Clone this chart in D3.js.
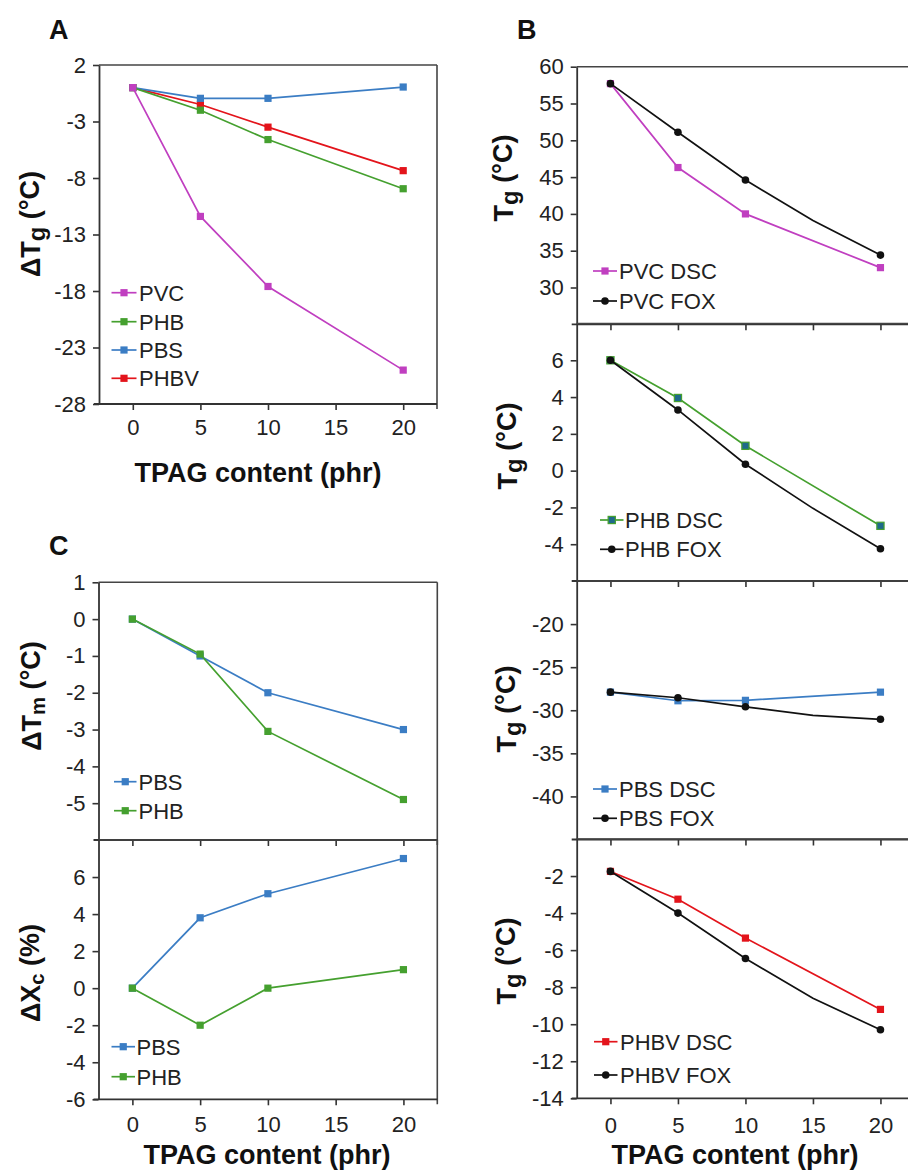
<!DOCTYPE html>
<html><head><meta charset="utf-8">
<script src="https://cdn.jsdelivr.net/npm/d3@7"></script>
<style>body{margin:0;background:#fff} svg{display:block}</style>
</head><body><svg id="c" width="908" height="1171"></svg>
<script>
// ---------- DATA ----------
const tpagX = [0, 5, 10, 20];
const foxX = [0, 5, 10, 15, 20];
const xTickVals = [0, 5, 10, 15, 20];

// Panel A: ΔTg
const dTgPVC  = [0, -11.4, -17.6, -25.0];
const dTgPHB  = [0, -2.0, -4.6, -8.95];
const dTgPBS  = [0, -0.95, -0.95, 0.05];
const dTgPHBV = [0, -1.5, -3.5, -7.35];
const ticksA = [2, -3, -8, -13, -18, -23, -28];

// Panel B: Tg DSC vs FOX
const tgPVCdsc  = [57.7, 46.3, 40.0, 32.7];
const tgPVCfox  = [57.7, 51.1, 44.6, 39.1, 34.4];
const tgPHBdsc  = [6.0, 3.95, 1.35, -3.0];
const tgPHBfox  = [6.0, 3.3, 0.35, -2.05, -4.25];
const tgPBSdsc  = [-27.9, -28.9, -28.85, -27.9];
const tgPBSfox  = [-27.9, -28.55, -29.6, -30.6, -31.05];
const tgPHBVdsc = [-1.75, -3.25, -5.35, -9.2];
const tgPHBVfox = [-1.75, -4.0, -6.45, -8.6, -10.3];
const ticksB1 = [30, 35, 40, 45, 50, 55, 60];
const ticksB2 = [-4, -2, 0, 2, 4, 6];
const ticksB3 = [-40, -35, -30, -25, -20];
const ticksB4 = [-14, -12, -10, -8, -6, -4, -2];

// Panel C: ΔTm and ΔXc
const dTmPBS = [0, -1.0, -2.0, -3.0];
const dTmPHB = [0, -0.95, -3.05, -4.9];
const dXcPBS = [0, 3.8, 5.1, 7.0];
const dXcPHB = [0, -2.0, 0, 1.0];
const ticksC1 = [-5, -4, -3, -2, -1, 0, 1];
const ticksC2 = [-6, -4, -2, 0, 2, 4, 6];

// ---------- STYLE ----------
const FONT = "'Liberation Sans', Arial, Helvetica, sans-serif";
const AX = "#333";
const C_PVC = "#c03fc0", C_PHB = "#45a02f", C_PBS = "#3b7dc4", C_PHBV = "#e3141b", C_FOX = "#111";
const xDomain = [-2.5, 22.5];
const fmt = d => String(d);

const svg = d3.select("#c");
svg.append("rect").attr("width", 908).attr("height", 1171).attr("fill", "#fff");

function drawPanel(p) {
  const x = d3.scaleLinear().domain(xDomain).range([p.left, p.right]);
  const y = d3.scaleLinear().domain(p.yDomain).range([p.bottom, p.top]);
  const g = svg.append("g");

  // frame top & right
  g.append("line").attr("x1", p.left).attr("x2", p.right).attr("y1", p.top).attr("y2", p.top)
    .attr("stroke", "#444").attr("stroke-width", 1.6);
  g.append("line").attr("x1", p.right).attr("x2", p.right).attr("y1", p.top).attr("y2", p.bottom + 5)
    .attr("stroke", "#444").attr("stroke-width", 1.6);

  // y axis
  const ya = g.append("g").attr("transform", `translate(${p.left},0)`)
    .call(d3.axisLeft(y).tickValues(p.yTicks).tickFormat(fmt).tickSize(6).tickPadding(7).tickSizeOuter(0));
  ya.attr("font-size", 22).attr("font-family", FONT);
  ya.select(".domain").attr("stroke", AX).attr("stroke-width", 1.8);
  ya.selectAll(".tick line").attr("stroke", AX).attr("stroke-width", 1.6);
  ya.selectAll(".tick text").attr("fill", "#222");

  // x axis
  const xa = g.append("g").attr("transform", `translate(0,${p.bottom})`)
    .call(d3.axisBottom(x).tickValues(xTickVals).tickSize(6).tickSizeOuter(0)
      .tickFormat(p.xLabels ? fmt : () => ""));
  xa.attr("font-size", 22).attr("font-family", FONT);
  xa.select(".domain").remove();
  xa.selectAll(".tick line").attr("stroke", AX).attr("stroke-width", 1.6);
  xa.selectAll(".tick text").attr("fill", "#222").attr("y", p.xLabelOffset || 31).attr("dy", 0);
  g.append("line").attr("x1", p.left - 5).attr("x2", p.right).attr("y1", p.bottom).attr("y2", p.bottom)
    .attr("stroke", AX).attr("stroke-width", 1.8);

  // series
  p.series.forEach(s => {
    const pts = s.y.map((v, i) => [s.x[i], v]);
    g.append("path").datum(pts)
      .attr("d", d3.line().x(d => x(d[0])).y(d => y(d[1])))
      .attr("fill", "none").attr("stroke", s.color).attr("stroke-width", 1.7);
    const mk = pts.filter(d => tpagX.includes(d[0]));
    if (s.marker === "circle") {
      g.selectAll(null).data(mk).enter().append("circle")
        .attr("cx", d => x(d[0])).attr("cy", d => y(d[1])).attr("r", 3.8).attr("fill", s.color);
    } else {
      g.selectAll(null).data(mk).enter().append("rect")
        .attr("x", d => x(d[0]) - 3.6).attr("y", d => y(d[1]) - 3.6)
        .attr("width", 7.2).attr("height", 7.2)
        .attr("fill", s.fill || s.color).attr("stroke", s.color).attr("stroke-width", s.fill ? 1.2 : 0);
    }
  });

  // legend
  const L = p.legend;
  L.rows.forEach((ry, i) => {
    const s = p.series[L.order[i]];
    g.append("line").attr("x1", L.x1).attr("x2", L.x2).attr("y1", ry).attr("y2", ry)
      .attr("stroke", s.color).attr("stroke-width", 1.7);
    const cx = (L.x1 + L.x2) / 2;
    if (s.marker === "circle") {
      g.append("circle").attr("cx", cx).attr("cy", ry).attr("r", 3.8).attr("fill", s.color);
    } else {
      g.append("rect").attr("x", cx - 3.6).attr("y", ry - 3.6).attr("width", 7.2).attr("height", 7.2)
        .attr("fill", s.fill || s.color).attr("stroke", s.color).attr("stroke-width", s.fill ? 1.2 : 0);
    }
    g.append("text").attr("x", L.tx).attr("y", ry + 8).attr("font-family", FONT).attr("font-size", 22)
      .attr("fill", "#222").text(s.name);
  });

  // y title
  const t = g.append("text").attr("transform", `translate(${p.yTitleX},${p.yTitleY}) rotate(-90)`)
    .attr("text-anchor", "middle").attr("font-family", FONT).attr("font-weight", "bold")
    .attr("font-size", 27).attr("fill", "#111");
  t.append("tspan").text(p.yTitle[0]);
  t.append("tspan").attr("dy", "0.2em").attr("font-size", p.yTitle[3] || "88%").text(p.yTitle[1]);
  t.append("tspan").attr("dy", "-0.2em").text(p.yTitle[2]);

  if (p.xTitle) {
    g.append("text").attr("x", p.xTitle.x).attr("y", p.xTitle.y).attr("text-anchor", "middle")
      .attr("font-family", FONT).attr("font-weight", "bold").attr("font-size", 27).attr("fill", "#111")
      .text("TPAG content (phr)");
  }
}

// Panel A
drawPanel({
  left: 99, right: 437, top: 65, bottom: 404, yDomain: [-28, 2], yTicks: ticksA,
  xLabels: true, xLabelOffset: 31,
  series: [
    {name: "PHBV", x: tpagX, y: dTgPHBV, color: C_PHBV},
    {name: "PBS", x: tpagX, y: dTgPBS, color: C_PBS},
    {name: "PHB", x: tpagX, y: dTgPHB, color: C_PHB},
    {name: "PVC", x: tpagX, y: dTgPVC, color: C_PVC}
  ],
  legend: {x1: 111.5, x2: 136.5, tx: 139, rows: [292.7, 321.7, 350, 378.3], order: [3, 2, 1, 0]},
  yTitle: ["ΔT", "g", " (°C)"], yTitleX: 40, yTitleY: 224,
  xTitle: {x: 258, y: 482}
});

// Panel B
const bL = 576.7, bR = 914.2;
drawPanel({
  left: bL, right: bR, top: 66.7, bottom: 324.3, yDomain: [25, 60], yTicks: ticksB1,
  series: [
    {name: "PVC DSC", x: tpagX, y: tgPVCdsc, color: C_PVC},
    {name: "PVC FOX", x: foxX, y: tgPVCfox, color: C_FOX, marker: "circle"}
  ],
  legend: {x1: 593, x2: 617, tx: 619, rows: [271, 301], order: [0, 1]},
  yTitle: ["T", "g", " (°C)"], yTitleX: 513, yTitleY: 178
});
drawPanel({
  left: bL, right: bR, top: 323.5, bottom: 581, yDomain: [-6, 8], yTicks: ticksB2,
  series: [
    {name: "PHB DSC", x: tpagX, y: tgPHBdsc, color: C_PHB, fill: "#1f6a8a"},
    {name: "PHB FOX", x: foxX, y: tgPHBfox, color: C_FOX, marker: "circle"}
  ],
  legend: {x1: 600, x2: 623.5, tx: 625, rows: [520, 549.3], order: [0, 1]},
  yTitle: ["T", "g", " (°C)"], yTitleX: 517, yTitleY: 446
});
drawPanel({
  left: bL, right: bR, top: 581, bottom: 839.5, yDomain: [-45, -15], yTicks: ticksB3,
  series: [
    {name: "PBS DSC", x: tpagX, y: tgPBSdsc, color: C_PBS},
    {name: "PBS FOX", x: foxX, y: tgPBSfox, color: C_FOX, marker: "circle"}
  ],
  legend: {x1: 593, x2: 617, tx: 619, rows: [789, 818.3], order: [0, 1]},
  yTitle: ["T", "g", " (°C)"], yTitleX: 516, yTitleY: 709
});
drawPanel({
  left: bL, right: bR, top: 839, bottom: 1098.3, yDomain: [-14, 0], yTicks: ticksB4,
  xLabels: true, xLabelOffset: 35,
  series: [
    {name: "PHBV DSC", x: tpagX, y: tgPHBVdsc, color: C_PHBV},
    {name: "PHBV FOX", x: foxX, y: tgPHBVfox, color: C_FOX, marker: "circle"}
  ],
  legend: {x1: 594, x2: 617.5, tx: 620, rows: [1041.7, 1075], order: [0, 1]},
  yTitle: ["T", "g", " (°C)"], yTitleX: 516, yTitleY: 961,
  xTitle: {x: 735, y: 1164}
});

// Panel C
drawPanel({
  left: 98.5, right: 437.3, top: 582.3, bottom: 840, yDomain: [-6, 1], yTicks: ticksC1,
  series: [
    {name: "PBS", x: tpagX, y: dTmPBS, color: C_PBS},
    {name: "PHB", x: tpagX, y: dTmPHB, color: C_PHB}
  ],
  legend: {x1: 114, x2: 136.5, tx: 138.5, rows: [781.7, 810.7], order: [0, 1]},
  yTitle: ["ΔT", "m", " (°C)", "75%"], yTitleX: 41, yTitleY: 696
});
drawPanel({
  left: 98.5, right: 437.3, top: 840, bottom: 1099.3, yDomain: [-6, 8], yTicks: ticksC2,
  xLabels: true, xLabelOffset: 32.5,
  series: [
    {name: "PBS", x: tpagX, y: dXcPBS, color: C_PBS},
    {name: "PHB", x: tpagX, y: dXcPHB, color: C_PHB}
  ],
  legend: {x1: 111.5, x2: 135, tx: 136.5, rows: [1046.7, 1076.7], order: [0, 1]},
  yTitle: ["ΔX", "c", " (%)", "75%"], yTitleX: 40, yTitleY: 973,
  xTitle: {x: 267, y: 1164}
});

// panel letters
[["A", 49, 39], ["B", 517, 39], ["C", 49, 555]].forEach(([s, lx, ly]) => {
  svg.append("text").attr("x", lx).attr("y", ly).attr("font-family", FONT).attr("font-weight", "bold")
    .attr("font-size", 27).attr("fill", "#111").text(s);
});
</script>
</body></html>
